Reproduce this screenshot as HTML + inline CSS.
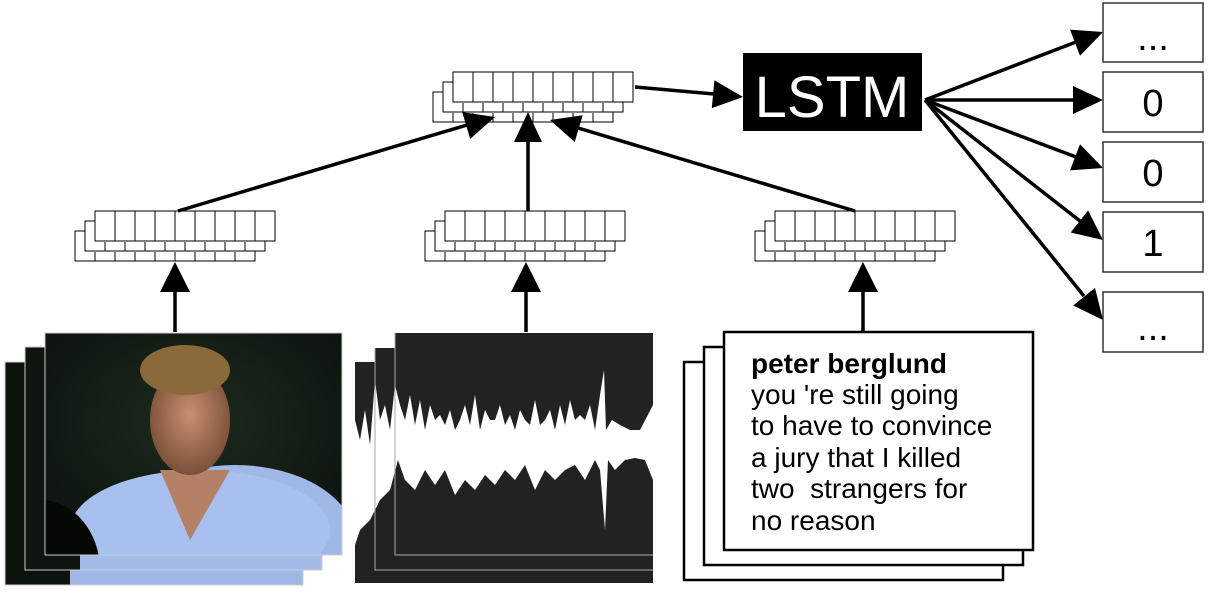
<!DOCTYPE html>
<html><head><meta charset="utf-8"><style>
html,body{margin:0;padding:0;background:#fff;overflow:hidden;width:1210px;height:598px;}
svg{display:block;font-family:"Liberation Sans",sans-serif;}
</style></head><body>
<svg width="1210" height="598" viewBox="0 0 1210 598" xmlns="http://www.w3.org/2000/svg">
<defs>
<g id="stk" stroke="#000" stroke-width="1" fill="#fff">
<rect x="-20" y="20" width="180" height="30"/>
<path d="M0 41V50M20 41V50M40 41V50M60 41V50M80 41V50M100 41V50M120 41V50M140 41V50" fill="none"/>
<rect x="-10" y="10" width="180" height="30"/>
<path d="M10 31V40M30 31V40M50 31V40M70 31V40M90 31V40M110 31V40M130 31V40M150 31V40" fill="none"/>
<rect x="0" y="0" width="180" height="30"/>
<path d="M20 0V30M40 0V30M60 0V30M80 0V30M100 0V30M120 0V30M140 0V30M160 0V30" fill="none"/>
</g>
<clipPath id="pc"><rect x="45" y="333" width="297" height="222"/></clipPath>
<radialGradient id="bg" cx="0.5" cy="0.4" r="0.7"><stop offset="0" stop-color="#1d2a1e"/><stop offset="1" stop-color="#0b120c"/></radialGradient>
<radialGradient id="face" cx="0.5" cy="0.45" r="0.55"><stop offset="0" stop-color="#c89070"/><stop offset="1" stop-color="#7a5038"/></radialGradient>
</defs>

<rect x="5" y="362" width="298" height="223" fill="#0c130d"/>
<rect x="70" y="555" width="233" height="30" fill="#9fb8e6"/>
<rect x="5" y="362" width="298" height="223" fill="none" stroke="#ccc"/>
<rect x="25" y="347" width="297" height="223" fill="#0e150f"/>
<rect x="80" y="540" width="242" height="30" fill="#a2bbe8"/>
<rect x="25" y="347" width="297" height="223" fill="none" stroke="#ccc"/>
<rect x="45" y="333" width="297" height="222" fill="url(#bg)"/>
<g clip-path="url(#pc)">
<ellipse cx="235" cy="540" rx="120" ry="75" fill="#9fb8e6"/>
<ellipse cx="200" cy="530" rx="130" ry="60" fill="#a7c0ee"/>
<polygon points="160,470 190,540 230,470" fill="#b48066"/>
<ellipse cx="190" cy="420" rx="40" ry="55" fill="url(#face)"/>
<ellipse cx="185" cy="370" rx="45" ry="25" fill="#8a6a3a"/>
<ellipse cx="40" cy="570" rx="60" ry="70" fill="#050705"/>
</g>
<rect x="45" y="333" width="297" height="222" fill="none" stroke="#ccc"/>

<rect x="355" y="362" width="298" height="221" fill="#222"/>
<rect x="375" y="348" width="278" height="222" fill="#222"/>
<rect x="395" y="333" width="258" height="222" fill="#222"/>
<polygon fill="#fff" points="355,420 360,440 365,410 370,445 375,380 380,420 385,405 390,430 395,385 400,405 405,420 410,395 415,425 420,400 425,430 430,405 435,420 440,415 445,425 450,410 455,430 460,420 465,405 470,425 475,395 480,430 485,410 490,420 495,420 500,405 505,425 510,415 515,430 520,410 525,420 530,425 535,400 540,425 545,420 550,410 555,430 560,405 565,425 570,400 575,420 580,415 585,420 590,405 595,430 600,395 604,370 606,430 612,420 620,425 630,430 640,430 653,405 653,480 645,460 635,458 625,460 615,470 608,460 605,530 600,470 595,460 585,480 575,465 565,470 555,480 545,470 535,490 525,465 515,480 505,470 495,485 485,475 475,490 465,480 455,495 445,470 435,485 425,470 415,490 405,480 398,460 390,490 380,500 370,520 360,530 355,545"/>
<path d="M395 333V555H653M375 348V570H653" fill="none" stroke="#aaa" stroke-width="1"/>

<g fill="#fff" stroke="#000" stroke-width="2.5">
<rect x="684" y="362" width="319" height="218"/>
<rect x="704" y="347" width="319" height="218"/>
<rect x="724" y="332" width="309" height="218"/>
</g>
<g font-size="28" fill="#000">
<text x="751" y="373" font-weight="bold">peter berglund</text>
<text x="751" y="404">you 're still going</text>
<text x="751" y="435">to have to convince</text>
<text x="751" y="467">a jury that I killed</text>
<text x="751" y="498" xml:space="preserve">two  strangers for</text>
<text x="751" y="530">no reason</text>
</g>

<use href="#stk" x="95" y="211"/>
<use href="#stk" x="445" y="211"/>
<use href="#stk" x="775" y="211"/>
<use href="#stk" x="453" y="72"/>

<g stroke="#000" stroke-width="3.5" fill="none">
<line x1="175" y1="332" x2="175" y2="290"/>
<line x1="526" y1="332" x2="526" y2="290"/>
<line x1="863" y1="332" x2="863" y2="290"/>
<line x1="178" y1="211" x2="467" y2="125"/>
<line x1="528" y1="211" x2="528" y2="141"/>
<line x1="855" y1="211" x2="578" y2="128"/>
<line x1="635" y1="87" x2="714" y2="94"/>
<line x1="925" y1="100" x2="1076" y2="42"/>
<line x1="925" y1="100" x2="1074" y2="100"/>
<line x1="925" y1="100" x2="1076" y2="157"/>
<line x1="925" y1="100" x2="1080" y2="221"/>
<line x1="925" y1="100" x2="1084" y2="296"/>
</g>
<g fill="#000">
<polygon points="175,262 160,292 190,292"/>
<polygon points="526,262 511,292 541,292"/>
<polygon points="863,262 848,292 878,292"/>
<polygon points="495,117 470.2,138.9 462.2,112.1"/>
<polygon points="528,112 514,142 542,142"/>
<polygon points="550,120 582.7,115.2 574.7,142"/>
<polygon points="743,97 711.8,108.1 714.4,80.3"/>
<polygon points="1103,32 1080,55.8 1070,29.6"/>
<polygon points="1103,100 1073,86 1073,114"/>
<polygon points="1103,168 1070,170.4 1080,144.2"/>
<polygon points="1103,240 1070.7,232.5 1088.1,210.5"/>
<polygon points="1103,320 1073.2,305.5 1095,287.9"/>
</g>

<rect x="743" y="53" width="179" height="78" fill="#000"/>
<text x="832" y="117" font-size="58" fill="#fff" text-anchor="middle">LSTM</text>

<g fill="#fff" stroke="#333" stroke-width="1.5">
<rect x="1103" y="3" width="100" height="59"/>
<rect x="1103" y="72" width="100" height="60"/>
<rect x="1103" y="142" width="100" height="60"/>
<rect x="1103" y="212" width="100" height="60"/>
<rect x="1103" y="292" width="100" height="60"/>
</g>
<g font-size="38" text-anchor="middle" fill="#000">
<text x="1153" y="50">...</text>
<text x="1153" y="116">0</text>
<text x="1153" y="186">0</text>
<text x="1153" y="256">1</text>
<text x="1153" y="340">...</text>
</g>
</svg>
</body></html>
